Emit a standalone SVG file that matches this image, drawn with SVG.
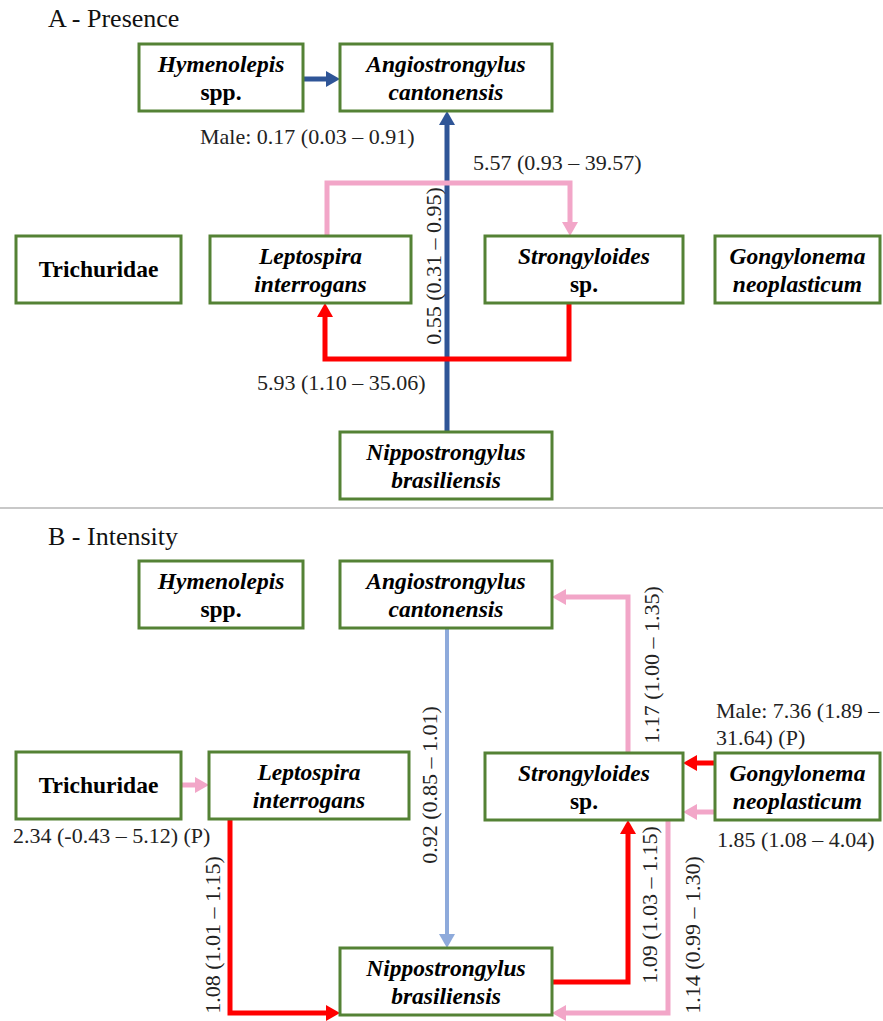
<svg xmlns="http://www.w3.org/2000/svg" width="883" height="1021" viewBox="0 0 883 1021">
<style>
.box{fill:#fff;stroke:#548235;stroke-width:3}
.nt{font-family:"Liberation Serif","Times New Roman",serif;font-size:23.5px;font-weight:bold;font-style:italic;text-anchor:middle;fill:#000}
.nb{font-family:"Liberation Serif","Times New Roman",serif;font-size:23.5px;font-weight:bold;text-anchor:middle;fill:#000}
.lb{font-family:"Liberation Serif","Times New Roman",serif;font-size:22px;fill:#222}
.lr{font-family:"Liberation Serif","Times New Roman",serif;font-size:22px;fill:#222;text-anchor:middle}
.ti{font-family:"Liberation Serif","Times New Roman",serif;font-size:26px;fill:#111}
.c{fill:none;stroke-width:5}
.blue{stroke:#2f5597}
.lblue{stroke:#8eaadb;stroke-width:4}
.red{stroke:#ff0000}
.pink{stroke:#f2a6c8}
</style>
<defs>
<marker id="ab" markerUnits="userSpaceOnUse" markerWidth="14" markerHeight="16" refX="0" refY="8" orient="auto"><path d="M0,0 L14,8 L0,16 z" fill="#2f5597"/></marker>
<marker id="al" markerUnits="userSpaceOnUse" markerWidth="14" markerHeight="16" refX="0" refY="8" orient="auto"><path d="M0,0 L14,8 L0,16 z" fill="#8eaadb"/></marker>
<marker id="ar" markerUnits="userSpaceOnUse" markerWidth="14" markerHeight="16" refX="0" refY="8" orient="auto"><path d="M0,0 L14,8 L0,16 z" fill="#ff0000"/></marker>
<marker id="ap" markerUnits="userSpaceOnUse" markerWidth="14" markerHeight="16" refX="0" refY="8" orient="auto"><path d="M0,0 L14,8 L0,16 z" fill="#f2a6c8"/></marker>
</defs>
<rect width="883" height="1021" fill="#fff"/>
<text class="ti" x="48" y="27">A - Presence</text>
<text class="ti" x="48" y="545">B - Intensity</text>
<line x1="0" y1="508" x2="883" y2="508" stroke="#c8c8c8" stroke-width="2"/>

<g id="connectors">
<path class="c blue" d="M303,79 H326" marker-end="url(#ab)"/>
<path class="c blue" d="M447,432 V125" marker-end="url(#ab)"/>
<path class="c pink" d="M327,236 V183 H570 V222" marker-end="url(#ap)"/>
<path class="c red" d="M569,303 V359 H325 V317" marker-end="url(#ar)"/>
<path class="c pink" d="M181,785 H195" marker-end="url(#ap)"/>
<path class="c red" d="M230,818 V1013 H326" marker-end="url(#ar)"/>
<path class="c lblue" d="M447,628 V934" marker-end="url(#al)"/>
<path class="c pink" d="M628,753 V597 H566" marker-end="url(#ap)"/>
<path class="c red" d="M715,763 H697" marker-end="url(#ar)"/>
<path class="c pink" d="M715,812 H697" marker-end="url(#ap)"/>
<path class="c red" d="M552,982 H628 V834" marker-end="url(#ar)"/>
<path class="c pink" d="M668,820 V1013 H566" marker-end="url(#ap)"/>
</g>

<g id="labels">
<text class="lb" x="200" y="144">Male: 0.17 (0.03 – 0.91)</text>
<text class="lb" x="473" y="170">5.57 (0.93 – 39.57)</text>
<text class="lb" x="257" y="390">5.93 (1.10 – 35.06)</text>
<text class="lr" transform="translate(441,266) rotate(-90)">0.55 (0.31 – 0.95)</text>
<text class="lb" x="13" y="843">2.34 (-0.43 – 5.12) (P)</text>
<text class="lb" x="716" y="718">Male: 7.36 (1.89 –</text>
<text class="lb" x="716" y="745">31.64) (P)</text>
<text class="lb" x="717" y="847">1.85 (1.08 – 4.04)</text>
<text class="lr" transform="translate(437,785) rotate(-90)">0.92 (0.85 – 1.01)</text>
<text class="lr" transform="translate(220,935) rotate(-90)">1.08 (1.01 – 1.15)</text>
<text class="lr" transform="translate(659,665) rotate(-90)">1.17 (1.00 – 1.35)</text>
<text class="lr" transform="translate(657,905) rotate(-90)">1.09 (1.03 – 1.15)</text>
<text class="lr" transform="translate(700,935) rotate(-90)">1.14 (0.99 – 1.30)</text>
</g>

<g id="A-hymenolepis"><rect class="box" x="139" y="44" width="164" height="67"/><text class="nt" x="221" y="72">Hymenolepis</text><text class="nb" x="221" y="100">spp.</text></g>
<g id="A-angiostrongylus"><rect class="box" x="340" y="44" width="212" height="67"/><text class="nt" x="446" y="72">Angiostrongylus</text><text class="nt" x="446" y="100">cantonensis</text></g>
<g id="A-trichuridae"><rect class="box" x="16" y="236" width="165" height="67"/><text class="nb" x="98.5" y="277">Trichuridae</text></g>
<g id="A-leptospira"><rect class="box" x="210" y="236" width="201" height="67"/><text class="nt" x="310.5" y="264">Leptospira</text><text class="nt" x="310.5" y="292">interrogans</text></g>
<g id="A-strongyloides"><rect class="box" x="485" y="236" width="198" height="67"/><text class="nt" x="584" y="264">Strongyloides</text><text class="nb" x="584" y="292">sp.</text></g>
<g id="A-gongylonema"><rect class="box" x="715" y="236" width="165" height="67"/><text class="nt" x="797.5" y="264">Gongylonema</text><text class="nt" x="797.5" y="292">neoplasticum</text></g>
<g id="A-nippostrongylus"><rect class="box" x="340" y="432" width="212" height="67"/><text class="nt" x="446" y="460">Nippostrongylus</text><text class="nt" x="446" y="488">brasiliensis</text></g>

<g id="B-hymenolepis"><rect class="box" x="139" y="561" width="164" height="67"/><text class="nt" x="221" y="589">Hymenolepis</text><text class="nb" x="221" y="617">spp.</text></g>
<g id="B-angiostrongylus"><rect class="box" x="340" y="561" width="212" height="67"/><text class="nt" x="446" y="589">Angiostrongylus</text><text class="nt" x="446" y="617">cantonensis</text></g>
<g id="B-trichuridae"><rect class="box" x="16" y="752" width="165" height="67"/><text class="nb" x="98.5" y="793">Trichuridae</text></g>
<g id="B-leptospira"><rect class="box" x="209" y="752" width="200" height="67"/><text class="nt" x="309" y="780">Leptospira</text><text class="nt" x="309" y="808">interrogans</text></g>
<g id="B-strongyloides"><rect class="box" x="485" y="753" width="198" height="67"/><text class="nt" x="584" y="781">Strongyloides</text><text class="nb" x="584" y="809">sp.</text></g>
<g id="B-gongylonema"><rect class="box" x="715" y="753" width="165" height="67"/><text class="nt" x="797.5" y="781">Gongylonema</text><text class="nt" x="797.5" y="809">neoplasticum</text></g>
<g id="B-nippostrongylus"><rect class="box" x="340" y="948" width="212" height="67"/><text class="nt" x="446" y="976">Nippostrongylus</text><text class="nt" x="446" y="1004">brasiliensis</text></g>
</svg>
